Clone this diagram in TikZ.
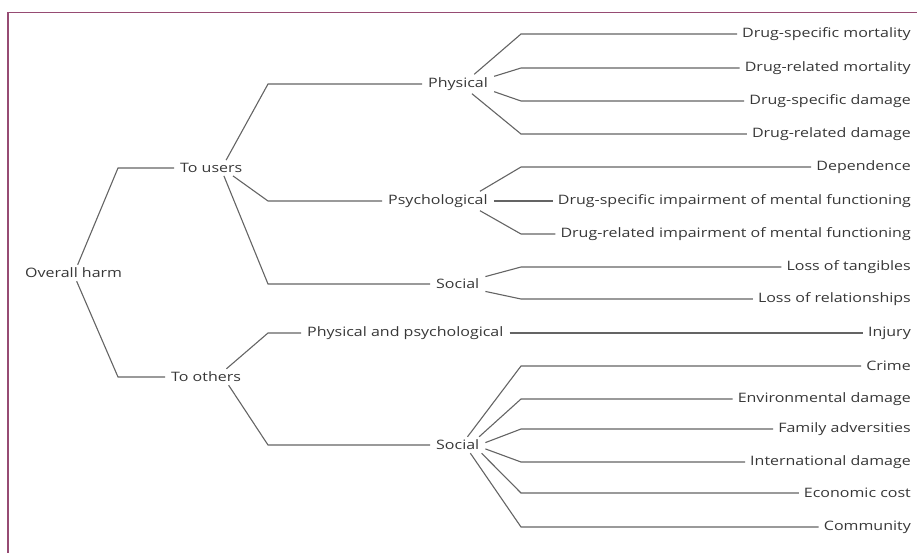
\documentclass[tikz,border=0pt]{standalone}
\usepackage{fontspec}
\setmainfont{Open Sans}[FakeStretch=1.23]
\usetikzlibrary{positioning}
\definecolor{framecol}{RGB}{150,75,115}
\definecolor{txtcol}{RGB}{55,55,55}
\definecolor{linecol}{RGB}{100,100,100}

\begin{document}
\begin{tikzpicture}[
    x=1pt, y=-1pt,
    font=\fontsize{13}{15}\selectfont,
    lbl/.style={text=txtcol, inner xsep=6pt, inner ysep=3pt, anchor=west},
    leaf/.style={text=txtcol, inner xsep=5pt, inner ysep=3pt, anchor=east},
    link/.style={draw=linecol, line width=1.1pt},
    frame/.style={draw=framecol, line width=1.4pt}
]
    \clip (0,0) rectangle (917,552);
    \draw[frame] (8,570) |- (930,12.5);

    % columns where the connectors turn horizontal
    \coordinate (c1) at (118,0);
    \coordinate (c2) at (268,0);
    \coordinate (c3) at (521,0);

    % inner levels
    \node[lbl] (harm) at (19,273) {Overall harm};
    \node[lbl] (users) at (174,168) {To users};
    \node[lbl] (others) at (165,377) {To others};
    \node[lbl] (phys) at (422,84) {Physical};
    \node[lbl] (psych) at (382,201) {Psychological};
    \node[lbl] (socu) at (430,284) {Social};
    \node[lbl] (physpsy) at (301,333) {Physical and psychological};
    \node[lbl] (soco) at (430,445) {Social};

    % criteria
    \node[leaf] (dsm) at (916,34) {Drug-specific mortality};
    \node[leaf] (drm) at (916,68) {Drug-related mortality};
    \node[leaf] (dsd) at (916,101) {Drug-specific damage};
    \node[leaf] (drd) at (916,134) {Drug-related damage};
    \node[leaf] (dep) at (916,167) {Dependence};
    \node[leaf] (dsi) at (916,201) {Drug-specific impairment of mental functioning};
    \node[leaf] (dri) at (916,234) {Drug-related impairment of mental functioning};
    \node[leaf] (lot) at (916,267) {Loss of tangibles};
    \node[leaf] (lor) at (916,299) {Loss of relationships};
    \node[leaf] (inj) at (916,333) {Injury};
    \node[leaf] (crime) at (916,366) {Crime};
    \node[leaf] (env) at (916,399) {Environmental damage};
    \node[leaf] (fam) at (916,429) {Family adversities};
    \node[leaf] (intl) at (916,462) {International damage};
    \node[leaf] (econ) at (916,493) {Economic cost};
    \node[leaf] (comm) at (916,527) {Community};

    % overall harm
    \draw[link] ([xshift=4pt]harm.north) -- (c1 |- users.west) -- (users.west);
    \draw[link] ([xshift=3pt]harm.south) -- (c1 |- others.west) -- (others.west);

    % to users
    \draw[link] (users.28) -- (c2 |- phys.west) -- (phys.west);
    \draw[link] (users.-20) -- (c2 |- psych.west) -- (psych.west);
    \draw[link] (users.-32) -- (c2 |- socu.west) -- (socu.west);

    % to others
    \draw[link] (others.22) -- (c2 |- physpsy.west) -- (physpsy.west);
    \draw[link] (others.-20) -- (c2 |- soco.west) -- (soco.west);

    % physical
    \draw[link] (phys.31) -- (c3 |- dsm.west) -- (dsm.west);
    \draw[link] (phys.12) -- (c3 |- drm.west) -- (drm.west);
    \draw[link] (phys.-12) -- (c3 |- dsd.west) -- (dsd.west);
    \draw[link] (phys.-35) -- (c3 |- drd.west) -- (drd.west);

    % psychological
    \draw[link] (psych.13) -- (c3 |- dep.west) -- (dep.west);
    \draw[link] (psych.east) -- (dsi.west);
    \draw[link] (psych.-13) -- (c3 |- dri.west) -- (dri.west);

    % social, to users
    \draw[link] (socu.15) -- (c3 |- lot.west) -- (lot.west);
    \draw[link] (socu.-15) -- (c3 |- lor.west) -- (lor.west);

    % physical and psychological, to others
    \draw[link] (physpsy.east) -- (inj.west);

    % social, to others
    \draw[link] (soco.40) -- (c3 |- crime.west) -- (crime.west);
    \draw[link] (soco.21) -- (c3 |- env.west) -- (env.west);
    \draw[link] (soco.5) -- (c3 |- fam.west) -- (fam.west);
    \draw[link] (soco.-8) -- (c3 |- intl.west) -- (intl.west);
    \draw[link] (soco.-19) -- (c3 |- econ.west) -- (econ.west);
    \draw[link] (soco.-33) -- (c3 |- comm.west) -- (comm.west);
\end{tikzpicture}
\end{document}
